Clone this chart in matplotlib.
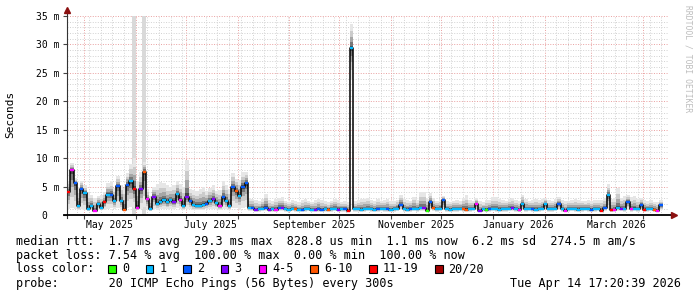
import numpy as np
import pandas as pd
import matplotlib
matplotlib.use('Agg')
import matplotlib.pyplot as plt
import matplotlib.dates as mdates
from matplotlib.patches import Rectangle
from matplotlib.ticker import MultipleLocator, NullFormatter
from matplotlib.transforms import blended_transform_factory

plt.rcParams['font.family'] = 'DejaVu Sans Mono'

## -- DONNEES (ms) -- ##
t_start = '2025-04-21 18:00'
t_step = '47h20min'

median_ms = [4.1, 7.9, 5.6, 1.5, 4.6, 3.8, 1.0, 1.5, 0.7, 1.9,
             1.2, 2.3, 3.6, 3.6, 2.4, 5.1, 2.4, 0.9, 5.3, 5.9,
             4.6, 1.2, 4.5, 7.6, 2.8, 1.0, 3.2, 2.0, 2.3, 2.7,
             2.2, 2.6, 2.3, 3.7, 2.7, 1.5, 3.2, 2.4, 1.7, 1.6,
             1.6, 1.7, 2.0, 2.4, 2.8, 2.1, 1.5, 3.1, 2.4, 1.5,
             4.9, 4.2, 3.4, 5.0, 5.6, 1.2, 1.2, 0.8, 1.0, 1.1,
             1.3, 0.8, 1.0, 0.8, 1.3, 1.2, 1.0, 0.9, 1.1, 1.0,
             0.9, 0.8, 1.0, 1.1, 0.9, 0.8, 1.0, 0.8, 1.0, 0.9,
             1.0, 1.1, 0.9, 1.0, 1.0, 0.7, 29.3, 1.0, 1.0, 0.9,
             1.0, 1.1, 1.0, 0.9, 1.0, 1.1, 1.0, 1.0, 0.9, 1.0,
             1.1, 1.8, 1.0, 0.9, 1.0, 1.1, 1.0, 1.2, 1.2, 0.7,
             2.2, 1.2, 1.0, 1.1, 2.6, 1.0, 0.9, 1.0, 1.0, 1.1,
             1.0, 0.9, 1.0, 1.1, 1.9, 0.7, 1.0, 0.8, 1.0, 1.1,
             1.0, 0.9, 1.0, 1.0, 1.1, 1.2, 1.0, 0.8, 1.9, 1.0,
             1.1, 1.0, 0.9, 1.0, 1.1, 1.9, 1.0, 1.0, 1.1, 1.9,
             1.0, 0.7, 1.0, 1.1, 1.0, 0.9, 1.0, 1.1, 1.0, 0.9,
             1.0, 1.1, 0.7, 1.2, 3.5, 0.8, 0.9, 1.2, 1.1, 1.0,
             2.3, 1.0, 1.1, 1.0, 1.7, 0.9, 1.0, 1.1, 0.9, 0.7,
             1.7]

smoke_hi_ms = [6.0, 9.2, 6.5, 5.0, 6.0, 5.2, 3.8, 3.6, 3.0, 3.4,
               3.6, 4.0, 5.6, 5.8, 4.8, 6.8, 5.2, 4.8, 7.4, 9.0,
               10.0, 6.0, 7.5, 9.3, 4.5, 3.3, 5.0, 5.4, 5.8, 5.6,
               5.2, 5.0, 5.3, 5.9, 5.5, 5.0, 9.6, 4.6, 4.4, 4.2,
               4.6, 5.0, 4.2, 4.8, 5.2, 4.3, 4.4, 5.9, 5.2, 4.6,
               7.4, 6.4, 6.2, 7.5, 7.6, 3.0, 2.9, 2.6, 2.4, 2.8,
               3.7, 2.6, 2.4, 2.9, 3.0, 3.1, 2.5, 2.3, 2.6, 2.4,
               2.2, 2.7, 2.8, 2.5, 2.3, 2.6, 2.9, 2.7, 2.4, 2.2,
               2.5, 2.8, 2.6, 2.3, 2.4, 2.2, 33.6, 2.4, 2.6, 2.8,
               2.9, 3.0, 2.6, 2.4, 2.8, 2.5, 2.6, 2.9, 2.5, 2.4,
               2.7, 3.5, 2.8, 2.6, 2.5, 3.2, 2.6, 4.0, 4.1, 2.9,
               3.8, 3.0, 2.5, 2.7, 3.3, 2.4, 2.3, 2.5, 2.6, 2.4,
               3.0, 3.5, 2.6, 2.5, 3.0, 2.4, 2.2, 2.6, 2.7, 3.1,
               3.2, 2.8, 2.6, 2.5, 2.9, 3.0, 2.6, 2.4, 3.6, 2.9,
               2.5, 2.7, 2.8, 2.6, 2.9, 3.0, 2.6, 2.5, 2.8, 3.1,
               2.7, 2.4, 2.5, 2.6, 2.8, 2.7, 2.5, 2.4, 2.6, 2.5,
               2.7, 2.6, 2.6, 3.0, 5.4, 2.8, 3.0, 4.7, 3.0, 3.4,
               3.5, 3.2, 3.3, 2.8, 3.0, 2.7, 2.4, 2.6, 2.3, 2.2,
               2.6]

smoke_lo_ms = [1.0, 1.2, 1.0, 0.8, 1.0, 0.9, 0.7, 0.8, 0.6, 0.9,
               0.8, 0.9, 1.1, 1.2, 1.0, 1.3, 1.0, 0.7, 1.2, 1.4,
               1.2, 0.8, 1.0, 1.4, 1.0, 0.7, 1.0, 0.9, 1.0, 1.1,
               1.0, 1.1, 1.0, 1.2, 1.0, 0.8, 1.1, 1.0, 0.9, 0.9,
               0.9, 0.9, 1.0, 1.0, 1.1, 1.0, 0.8, 1.1, 1.0, 0.8,
               1.3, 1.2, 1.1, 1.3, 1.4, 0.7, 0.7, 0.6, 0.6, 0.7,
               0.7, 0.6, 0.6, 0.6, 0.7, 0.7, 0.6, 0.6, 0.7, 0.6,
               0.6, 0.6, 0.6, 0.7, 0.6, 0.6, 0.6, 0.6, 0.6, 0.6,
               0.6, 0.7, 0.6, 0.6, 0.6, 0.5, 24.0, 0.6, 0.6, 0.6,
               0.6, 0.7, 0.6, 0.6, 0.6, 0.7, 0.6, 0.6, 0.6, 0.6,
               0.7, 0.8, 0.6, 0.6, 0.6, 0.7, 0.6, 0.7, 0.7, 0.5,
               0.8, 0.7, 0.6, 0.7, 0.9, 0.6, 0.6, 0.6, 0.6, 0.7,
               0.6, 0.6, 0.6, 0.7, 0.8, 0.5, 0.6, 0.5, 0.6, 0.7,
               0.6, 0.6, 0.6, 0.6, 0.7, 0.7, 0.6, 0.5, 0.8, 0.6,
               0.7, 0.6, 0.6, 0.6, 0.7, 0.8, 0.6, 0.6, 0.7, 0.8,
               0.6, 0.5, 0.6, 0.7, 0.6, 0.6, 0.6, 0.7, 0.6, 0.6,
               0.6, 0.7, 0.5, 0.7, 1.0, 0.5, 0.6, 0.7, 0.7, 0.6,
               0.9, 0.6, 0.7, 0.6, 0.8, 0.6, 0.6, 0.7, 0.6, 0.5,
               0.8]

# classe de perte: 0=0, 1=1, 2=2, 3=3, 4=4-5, 5=6-10, 6=11-19, 7=20/20
loss_class = [6, 4, 2, 1, 2, 1, 1, 1, 4, 1,
              1, 6, 1, 2, 1, 2, 1, 5, 2, 1,
              6, 4, 3, 5, 4, 1, 3, 1, 1, 1,
              1, 1, 3, 1, 4, 1, 3, 2, 1, 1,
              1, 1, 2, 1, 3, 1, 4, 2, 1, 1,
              2, 5, 1, 2, 2, 1, 2, 3, 1, 1,
              2, 3, 1, 4, 2, 3, 1, 1, 1, 5,
              1, 2, 1, 1, 1, 3, 2, 2, 1, 5,
              1, 1, 3, 1, 2, 6, 1, 1, 1, 1,
              1, 1, 1, 1, 2, 1, 1, 2, 1, 1,
              1, 2, 1, 1, 2, 1, 1, 1, 3, 0,
              2, 5, 1, 1, 2, 1, 1, 1, 1, 1,
              5, 5, 1, 1, 4, 3, 1, 0, 2, 1,
              1, 1, 1, 1, 1, 3, 1, 4, 1, 1,
              1, 2, 1, 1, 1, 1, 1, 1, 1, 2,
              1, 4, 1, 1, 1, 1, 1, 1, 1, 2,
              1, 1, 6, 2, 1, 6, 4, 1, 3, 1,
              2, 4, 1, 1, 2, 6, 1, 1, 5, 4,
              2]

# periodes sans reponse (100% perte)
dead_start = ['2025-05-29 20:00', '2025-06-04 20:00']
dead_end = ['2025-06-01 04:00', '2025-06-07 04:00']

loss_colors = ['#26ff00', '#00b8ff', '#0059ff', '#7e00ff',
               '#ff00ff', '#ff5500', '#ff0000', '#a10000']
loss_labels = ['0', '1', '2', '3', '4-5', '6-10', '11-19', '20/20']

yticks = [0, 5, 10, 15, 20, 25, 30, 35]
ytick_labels = ['0  ', '5 m', '10 m', '15 m', '20 m', '25 m', '30 m', '35 m']
xlabel_dates = ['2025-05-16', '2025-07-16', '2025-09-16',
                '2025-11-16', '2026-01-16', '2026-03-16']
xlabel_text = ['May 2025', 'July 2025', 'September 2025',
               'November 2025', 'January 2026', 'March 2026']
x_range = ['2025-04-20 19:30', '2026-04-16 00:00']

stats_lines = ['median rtt:  1.7 ms avg  29.3 ms max  828.8 us min  1.1 ms now  6.2 ms sd  274.5 m am/s',
               'packet loss: 7.54 % avg  100.00 % max  0.00 % min  100.00 % now']
probe_line = 'probe:       20 ICMP Echo Pings (56 Bytes) every 300s'
stamp = 'Tue Apr 14 17:20:39 2026'

## -- FIGURE -- ##
W, H = 697, 297
fig = plt.figure(figsize=(W / 100, H / 100), dpi=100)
fx = lambda p: p / W
fy = lambda p: 1 - p / H
ax = fig.add_axes([fx(67), fy(215), (668 - 67) / W, (215 - 16) / H])

t = pd.date_range(t_start, periods=len(median_ms), freq=t_step)
x = mdates.date2num(t.to_pydatetime())
w = pd.Timedelta(t_step).total_seconds() / 86400
med = np.array(median_ms)
hi = np.array(smoke_hi_ms)
lo = np.array(smoke_lo_ms)

for s, e in zip(dead_start, dead_end):
    ax.axvspan(pd.Timestamp(s), pd.Timestamp(e), color='#d9d9d9', lw=0, zorder=1)

# fumee: du plus clair (exterieur) au plus sombre (autour de la mediane)
shades = [(1.0, '#e6e6e6'), (0.7, '#cbcbcb'), (0.45, '#a6a6a6'),
          (0.25, '#777777'), (0.1, '#454545')]
for f, c in shades:
    ax.bar(x, (med + f * (hi - med)) - (med - f * (med - lo)),
           bottom=med - f * (med - lo), width=w, color=c, lw=0, zorder=2)

ax.plot(x, med, drawstyle='steps-mid', color='black', lw=1.1, zorder=3)
ax.hlines(med, x - w / 2, x + w / 2, colors=[loss_colors[c] for c in loss_class],
          lw=1.7, zorder=4)

ax.set_xlim(pd.Timestamp(x_range[0]), pd.Timestamp(x_range[1]))
ax.set_ylim(0, 35)

ax.xaxis.set_major_locator(mdates.MonthLocator())
ax.xaxis.set_minor_locator(mdates.WeekdayLocator(byweekday=mdates.SU))
ax.xaxis.set_major_formatter(NullFormatter())
ax.set_yticks(yticks, labels=ytick_labels)
ax.yaxis.set_minor_locator(MultipleLocator(1))
ax.tick_params(axis='both', which='major', length=3, width=0.8, color='#444444',
               labelsize=7, pad=2.5)
ax.tick_params(axis='both', which='minor', length=0)
ax.grid(which='minor', color='#d2d2d2', lw=0.7, ls=(0, (1, 1.6)), zorder=0)
ax.grid(which='major', color='#e9a0a0', lw=0.7, ls=(0, (1, 1.6)), zorder=0)
ax.set_axisbelow(True)
for sp in ax.spines.values():
    sp.set_visible(False)

# axes avec fleches facon rrdtool
ax.plot([0, 0], [-0.015, 1.02], transform=ax.transAxes, color='#333333', lw=0.8, clip_on=False)
ax.plot([-0.005, 1.006], [0, 0], transform=ax.transAxes, color='black', lw=1.3, clip_on=False)
ax.plot(0, 1.03, marker='^', ms=4.5, color='#8b1010', transform=ax.transAxes, clip_on=False)
ax.plot(1.01, 0, marker='>', ms=4.5, color='#8b1010', transform=ax.transAxes, clip_on=False)

tr = blended_transform_factory(ax.transData, ax.transAxes)
for d, lab in zip(xlabel_dates, xlabel_text):
    ax.text(pd.Timestamp(d), -0.05, lab, transform=tr, ha='center', va='center', fontsize=7)

fig.text(fx(10), fy(114), 'Seconds', rotation=90, ha='center', va='center', fontsize=8)
fig.text(fx(688), fy(59), 'RRDTOOL / TOBI OETIKER', rotation=270, ha='center',
         va='center', fontsize=5.8, color='#bdbdbd')

## -- LEGENDE -- ##
fs = 8.5
cw = 0.602 * fs * 100 / 72
fig.text(fx(16), fy(241), stats_lines[0], fontsize=fs, va='center')
fig.text(fx(16), fy(255), stats_lines[1], fontsize=fs, va='center')
fig.text(fx(16), fy(269), 'loss color:', fontsize=fs, va='center')
bx = 16 + 13 * cw
for col, lab in zip(loss_colors, loss_labels):
    fig.patches.append(Rectangle((fx(bx), fy(272.5)), 7.5 / W, 7.5 / H, transform=fig.transFigure,
                                 facecolor=col, edgecolor='black', lw=0.8))
    fig.text(fx(bx + 2 * cw - 0.7), fy(269), lab, fontsize=fs, va='center')
    bx += (len(lab) + 4) * cw + 2
fig.text(fx(16), fy(283), probe_line, fontsize=fs, va='center')
fig.text(fx(681), fy(283), stamp, fontsize=fs, va='center', ha='right')

fig.savefig('out.png', dpi=100)
